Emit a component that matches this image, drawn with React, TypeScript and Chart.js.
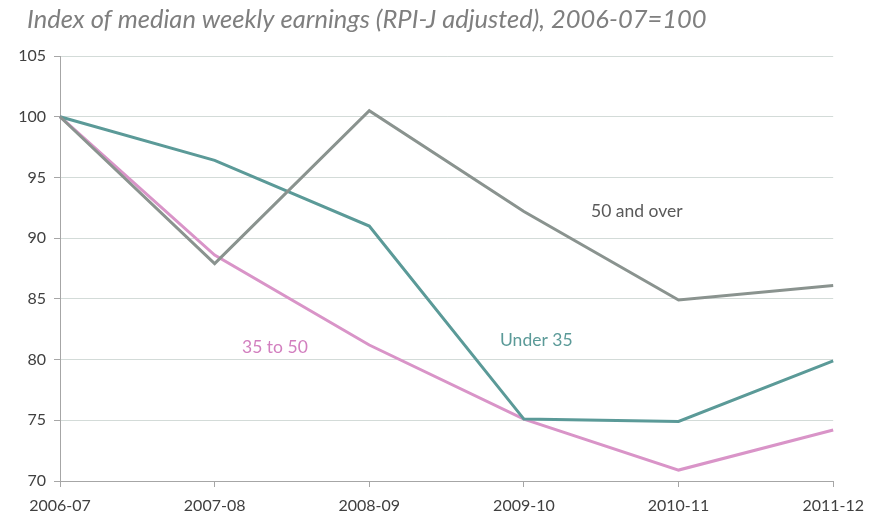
import React, { useEffect, useRef } from "react";
import { Chart, registerables } from "chart.js";

Chart.register(...registerables);

const categories = ["2006-07", "2007-08", "2008-09", "2009-10", "2010-11", "2011-12"];
const over50 = [100, 87.9, 100.5, 92.2, 84.9, 86.1];
const under35 = [100, 96.4, 91.0, 75.1, 74.9, 79.9];
const from35to50 = [100, 88.6, 81.2, 75.1, 70.9, 74.2];
const yTicks = [70, 75, 80, 85, 90, 95, 100, 105];

const titleText = "Index of median weekly earnings (RPI-J adjusted), 2006-07=100";

const seriesLabels = [
  { text: "50 and over", x: 3.73, y: 92.2, color: "#595959" },
  { text: "Under 35", x: 3.08, y: 81.6, color: "#5b9a98" },
  { text: "35 to 50", x: 1.39, y: 81.0, color: "#d27fbf" },
];

const FONT = "Lato, 'Open Sans', sans-serif";

export default function App() {
  const ref = useRef<HTMLCanvasElement>(null);
  useEffect(() => {
    document.body.style.margin = "0";
    const canvas = ref.current!;
    const labelPlugin = {
      id: "labelsAndTitle",
      afterDraw(chart: any) {
        const ctx = chart.ctx;
        const xs = chart.scales.x;
        const ys = chart.scales.y;
        ctx.save();
        ctx.font = `italic 25.5px ${FONT}`;
        ctx.fillStyle = "#7f7f7f";
        ctx.textBaseline = "middle";
        ctx.textAlign = "left";
        ctx.fillText(titleText, 27, 20);
        ctx.font = `17.5px ${FONT}`;
        ctx.textAlign = "center";
        for (const l of seriesLabels) {
          const x0 = xs.getPixelForValue(Math.floor(l.x));
          const x1 = xs.getPixelForValue(Math.ceil(l.x));
          const px = x0 + (x1 - x0) * (l.x - Math.floor(l.x));
          ctx.fillStyle = l.color;
          ctx.fillText(l.text, px, ys.getPixelForValue(l.y));
        }
        ctx.restore();
      },
    };
    const chart = new Chart(canvas, {
      type: "line",
      data: {
        labels: categories,
        datasets: [
          { label: "50 and over", data: over50, borderColor: "#8a938f", borderWidth: 3, pointRadius: 0, tension: 0 },
          { label: "Under 35", data: under35, borderColor: "#5b9a98", borderWidth: 3, pointRadius: 0, tension: 0 },
          { label: "35 to 50", data: from35to50, borderColor: "#d994c8", borderWidth: 3, pointRadius: 0, tension: 0 },
        ],
      },
      options: {
        animation: false,
        responsive: false,
        layout: { padding: { top: 56, right: 35, left: 0, bottom: 0 } },
        plugins: { legend: { display: false }, tooltip: { enabled: false }, title: { display: false } },
        scales: {
          x: {
            offset: false,
            grid: { drawOnChartArea: false, drawTicks: true, tickLength: 6, color: "#a6a6a6", tickColor: "#a6a6a6" },
            border: { color: "#a6a6a6", width: 1 },
            ticks: { color: "#404040", font: { family: FONT, size: 16 }, padding: 9, maxRotation: 0, autoSkip: false },
            afterFit(scale: any) { scale.height = 32; },
          },
          y: {
            min: 70,
            max: 105,
            afterBuildTicks(scale: any) { scale.ticks = yTicks.map((v) => ({ value: v })); },
            grid: { drawOnChartArea: true, drawTicks: true, tickLength: 6, color: "#d3dbd8", tickColor: "#a6a6a6" },
            border: { color: "#a6a6a6", width: 1 },
            ticks: { color: "#404040", font: { family: FONT, size: 16 }, padding: 8 },
            afterFit(scale: any) { scale.width = 60; },
          },
        },
      },
      plugins: [labelPlugin],
    });
    return () => chart.destroy();
  }, []);
  return (
    <div style={{ width: 873, height: 513 }}>
      <canvas ref={ref} width={873} height={513} style={{ display: "block" }} />
    </div>
  );
}
